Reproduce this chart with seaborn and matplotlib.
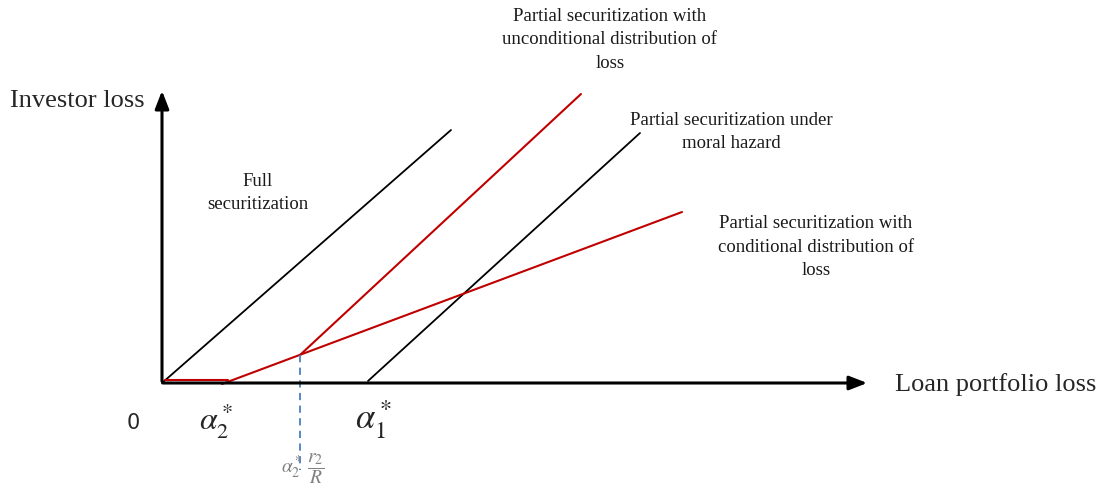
import numpy as np
import matplotlib.pyplot as plt
import seaborn as sns

sns.set_theme(style="white")
plt.rcParams['font.family'] = ['Liberation Serif', 'DejaVu Serif']
plt.rcParams['mathtext.fontset'] = 'stix'

# schematic in image units (x right, y down), origin of the diagram at (162, 383)
origin = (162, 383)
x_axis_end = 870
y_axis_end = 88

full_x = [162, 451]
full_y = [383, 130]

hold_x = [165, 228]
hold_y = [380, 380]

cond_x = [222, 682]
cond_y = [384, 212]

uncond_x = [300, 581]
uncond_y = [355, 94]

moral_x = [368, 640]
moral_y = [381, 133]

dash_x = [300, 300]
dash_y = [355, 470]

fig = plt.figure(figsize=(11.03, 5.04), dpi=100)
ax = fig.add_axes([0, 0, 1, 1])
ax.set_xlim(0, 1103)
ax.set_ylim(504, 0)
ax.axis('off')

# axes arrows
ax.annotate('', xy=(x_axis_end, origin[1]), xytext=(origin[0] - 2, origin[1]),
            arrowprops=dict(arrowstyle='-|>,head_length=0.9,head_width=0.35', color='black', lw=2.2))
ax.annotate('', xy=(origin[0], y_axis_end), xytext=(origin[0], origin[1] + 1),
            arrowprops=dict(arrowstyle='-|>,head_length=0.9,head_width=0.35', color='black', lw=2.2))

sns.lineplot(x=full_x, y=full_y, ax=ax, color='black', lw=1.3, sort=False)
sns.lineplot(x=moral_x, y=moral_y, ax=ax, color='black', lw=1.3, sort=False)
sns.lineplot(x=hold_x, y=hold_y, ax=ax, color='#c00000', lw=1.5, sort=False)
sns.lineplot(x=cond_x, y=cond_y, ax=ax, color='#c00000', lw=1.5, sort=False)
sns.lineplot(x=uncond_x, y=uncond_y, ax=ax, color='#c00000', lw=1.5, sort=False)
ax.plot(dash_x, dash_y, color='#4a7fc1', lw=1.3, ls=(0, (4, 3)))

# labels
ax.text(10, 101, 'Investor loss', fontsize=19, va='center', ha='left')
ax.text(895, 385, 'Loan portfolio loss', fontsize=19, va='center', ha='left')
ax.text(133, 423, '0', fontsize=15, va='center', ha='center', family=['DejaVu Sans'])
ax.text(216, 420, r'$\alpha_2^*$', fontsize=23, va='center', ha='center')
ax.text(374, 420, r'$\alpha_1^*$', fontsize=25, va='center', ha='center')
ax.text(303, 469, r'$\alpha_2^*\,\dfrac{r_2}{R}$', fontsize=14, va='center', ha='center', color='#808080')

lab = dict(fontsize=13.5, va='center', ha='center', linespacing=1.5, color='#1a1a1a')
ax.text(258, 193, 'Full\nsecuritization', **lab)
ax.text(610, 40, 'Partial securitization with\nunconditional distribution of\nloss', **lab)
ax.text(731, 132, 'Partial securitization under\nmoral hazard', **lab)
ax.text(816, 247, 'Partial securitization with\nconditional distribution of\nloss', **lab)

fig.savefig('out.png', dpi=100, facecolor='white')
